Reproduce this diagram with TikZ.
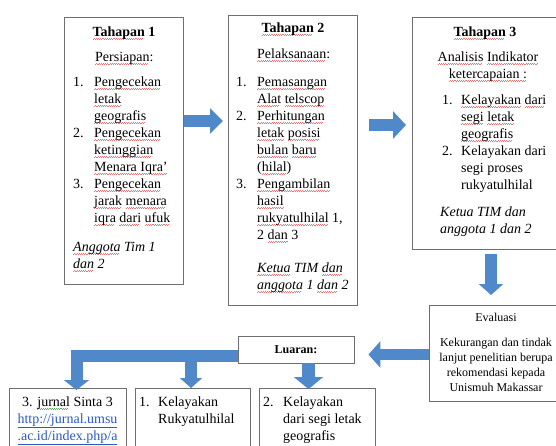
\documentclass[tikz,border=0pt]{standalone}
\usepackage{fontspec}
\setmainfont{Liberation Serif}
\usetikzlibrary{arrows.meta}
\definecolor{ablue}{RGB}{79,137,201}
\definecolor{bordergray}{RGB}{110,110,110}
\definecolor{spellred}{RGB}{232,120,120}
\definecolor{spellgreen}{RGB}{100,165,100}
\definecolor{urlblue}{RGB}{40,90,200}
\newsavebox\sqbox
\newcommand\wavepiece{\hbox{\vrule width 1.1pt height 0.55pt depth 0pt\raise0.6pt\hbox{\vrule width 1.1pt height 0.55pt depth 0pt}}}
\newcommand\squig[2]{\leavevmode\sbox\sqbox{#2}\rlap{\textcolor{#1}{\lower3.4pt\hbox to\wd\sqbox{\leaders\wavepiece\hfil}}}\usebox\sqbox}
\newcommand\rw[1]{\squig{spellred}{#1}}
\newcommand\gw[1]{\squig{spellgreen}{#1}}
\newcommand\mainsz{\fontsize{14}{17}\selectfont}
\newcommand\smallsz{\fontsize{12}{15}\selectfont}
\newcommand\numbx[2]{\makebox[#1][l]{#2}}
\begin{document}
\begin{tikzpicture}[x=1pt,y=-1pt,
  box/.style={draw=bordergray,line width=0.8pt,fill=white,inner sep=0pt,anchor=north west},
  txt/.style={inner sep=0pt,font=\mainsz,align=left,anchor=north west},
  head/.style={inner sep=0pt,font=\mainsz\bfseries,anchor=base},
  barrow/.style={draw=ablue,line join=miter,line cap=butt}]
\useasboundingbox (0,0) rectangle (556,445);
\fill[white] (0,0) rectangle (556,445);
\clip (0,0) rectangle (556,445);

% ---------- Tahapan 1
\node[box,minimum width=119pt,minimum height=267pt] (t1) at (64,17) {};
\node[head] (t1h) at (124,36) {\rw{Tahapan} 1};
\node[inner sep=0pt,font=\mainsz,anchor=base west] (t1a) at (95,61) {\rw{Persiapan}:};
\node[txt] (t1l) at (73,74.1) {\strut\numbx{21pt}{1.}\rw{Pengecekan}\\\hspace*{21pt}\rw{letak}\\\hspace*{21pt}\rw{geografis}\\
\numbx{21pt}{2.}\rw{Pengecekan}\\\hspace*{21pt}\rw{ketinggian}\\\hspace*{21pt}\rw{Menara Iqra'}\\
\numbx{21pt}{3.}\rw{Pengecekan}\\\hspace*{21pt}\rw{jarak} \rw{menara}\\\hspace*{21pt}\rw{iqra} \rw{dari} \rw{ufuk}};
\node[txt,font=\mainsz\itshape] (t1f) at (73,239.1) {\strut\rw{Anggota} Tim 1\\\rw{dan} 2};

% ---------- Tahapan 2
\node[box,minimum width=129pt,minimum height=290pt] (t2) at (228,15) {};
\node[head] (t2h) at (293,32) {\rw{Tahapan} 2};
\node[inner sep=0pt,font=\mainsz,anchor=base west] (t2a) at (257,58) {\rw{Pelaksanaan}:};
\node[txt] (t2l) at (236,74.1) {\strut\numbx{21pt}{1.}\rw{Pemasangan}\\\hspace*{21pt}\rw{Alat} \rw{telscop}\\
\numbx{21pt}{2.}\rw{Perhitungan}\\\hspace*{21pt}\rw{letak} \rw{posisi}\\\hspace*{21pt}\rw{bulan} \rw{baru}\\\hspace*{21pt}(\rw{hilal})\\
\numbx{21pt}{3.}\rw{Pengambilan}\\\hspace*{21pt}\rw{hasil}\\\hspace*{21pt}\rw{rukyatulhilal} 1,\\\hspace*{21pt}2 \rw{dan} 3};
\node[txt,font=\mainsz\itshape] (t2f) at (257,260.1) {\strut\rw{Ketua} TIM \rw{dan}\\\rw{anggota} 1 \rw{dan} 2};

% ---------- Tahapan 3
\node[box,minimum width=146pt,minimum height=232pt] (t3) at (412,17) {};
\node[head] (t3h) at (485,36) {\rw{Tahapan} 3};
\node[txt,align=center,anchor=north] (t3a) at (488,49.1) {\strut\rw{Analisis} \rw{Indikator}\\\rw{ketercapaian :}};
\node[txt] (t3l) at (442,92.1) {\strut\numbx{19pt}{1.}\rw{Kelayakan} \rw{dari}\\\hspace*{19pt}\rw{segi} \rw{letak}\\\hspace*{19pt}\rw{geografis}\\
\numbx{19pt}{2.}Kelayakan dari\\\hspace*{19pt}segi proses\\\hspace*{19pt}rukyatulhilal};
\node[txt,font=\mainsz\itshape] (t3f) at (440,204.1) {\strut Ketua TIM dan\\anggota 1 dan 2};

% ---------- Evaluasi
\node[box,minimum width=134pt,minimum height=96pt] (ev) at (429,305) {};
\node[inner sep=0pt,font=\smallsz,anchor=base] (evh) at (496,321) {Evaluasi};
\node[txt,font=\smallsz,align=center,anchor=north] (evt) at (496,335.5) {\strut Kekurangan dan tindak\\lanjut penelitian berupa\\rekomendasi kepada\\Unismuh Makassar};

% ---------- Luaran
\node[box,anchor=center,minimum width=116pt,minimum height=27pt,font=\smallsz\bfseries] (lu) at (296,349.5) {Luaran:};

% ---------- output boxes
\node[box,minimum width=117pt,minimum height=70pt] (bA) at (9,388) {};
\node[txt,align=center,anchor=north] (bAt) at (67.5,394.1) {\strut 3. \gw{jurnal} Sinta 3\\\textcolor{urlblue}{\underline{http://jurnal.umsu}}\\\textcolor{urlblue}{\underline{.ac.id/index.php/a}}};
\node[box,minimum width=115pt,minimum height=70pt] (bB) at (135,388) {};
\node[txt] (bBt) at (139,394.1) {\strut\numbx{19pt}{1.}Kelayakan\\\hspace*{19pt}Rukyatulhilal};
\node[box,minimum width=116pt,minimum height=70pt] (bC) at (259,388) {};
\node[txt] (bCt) at (263,394.1) {\strut\numbx{20pt}{2.}Kelayakan\\\hspace*{20pt}dari segi letak\\\hspace*{20pt}geografis};

% ---------- block arrows
\draw[barrow,line width=12pt,-{Triangle[width=25pt,length=13pt]},shorten >=5pt]
  (t1.east |- 0,121) -- (t2.west |- 0,121);
\draw[barrow,line width=12pt,-{Triangle[width=27pt,length=13pt]},shorten <=11pt,shorten >=6pt]
  (t2.east |- 0,125) -- (t3.west |- 0,125);
\draw[barrow,line width=12pt,-{Triangle[width=24pt,length=11pt]},shorten <=4pt,shorten >=10pt]
  (t3.south -| 491,0) -- (ev.north -| 491,0);
\draw[barrow,line width=11pt,-{Triangle[width=26pt,length=12pt]},shorten >=14pt]
  (ev.west |- 0,354.5) -- (lu.east |- 0,354.5);
\draw[barrow,line width=12pt,-{Triangle[width=25pt,length=10pt]},shorten >=-2pt]
  (lu.west |- 0,355.5) -| (bA.north -| 76.5,0);
\coordinate (j1) at (191,355.5);
\draw[barrow,line width=12pt,-{Triangle[width=22pt,length=10pt]}]
  (j1) -- (bB.north -| j1);
\draw[barrow,line width=13pt,-{Triangle[width=29pt,length=12pt]},shorten >=-1pt]
  (lu.south -| 308.5,0) -- (bC.north -| 308.5,0);
\end{tikzpicture}
\end{document}
